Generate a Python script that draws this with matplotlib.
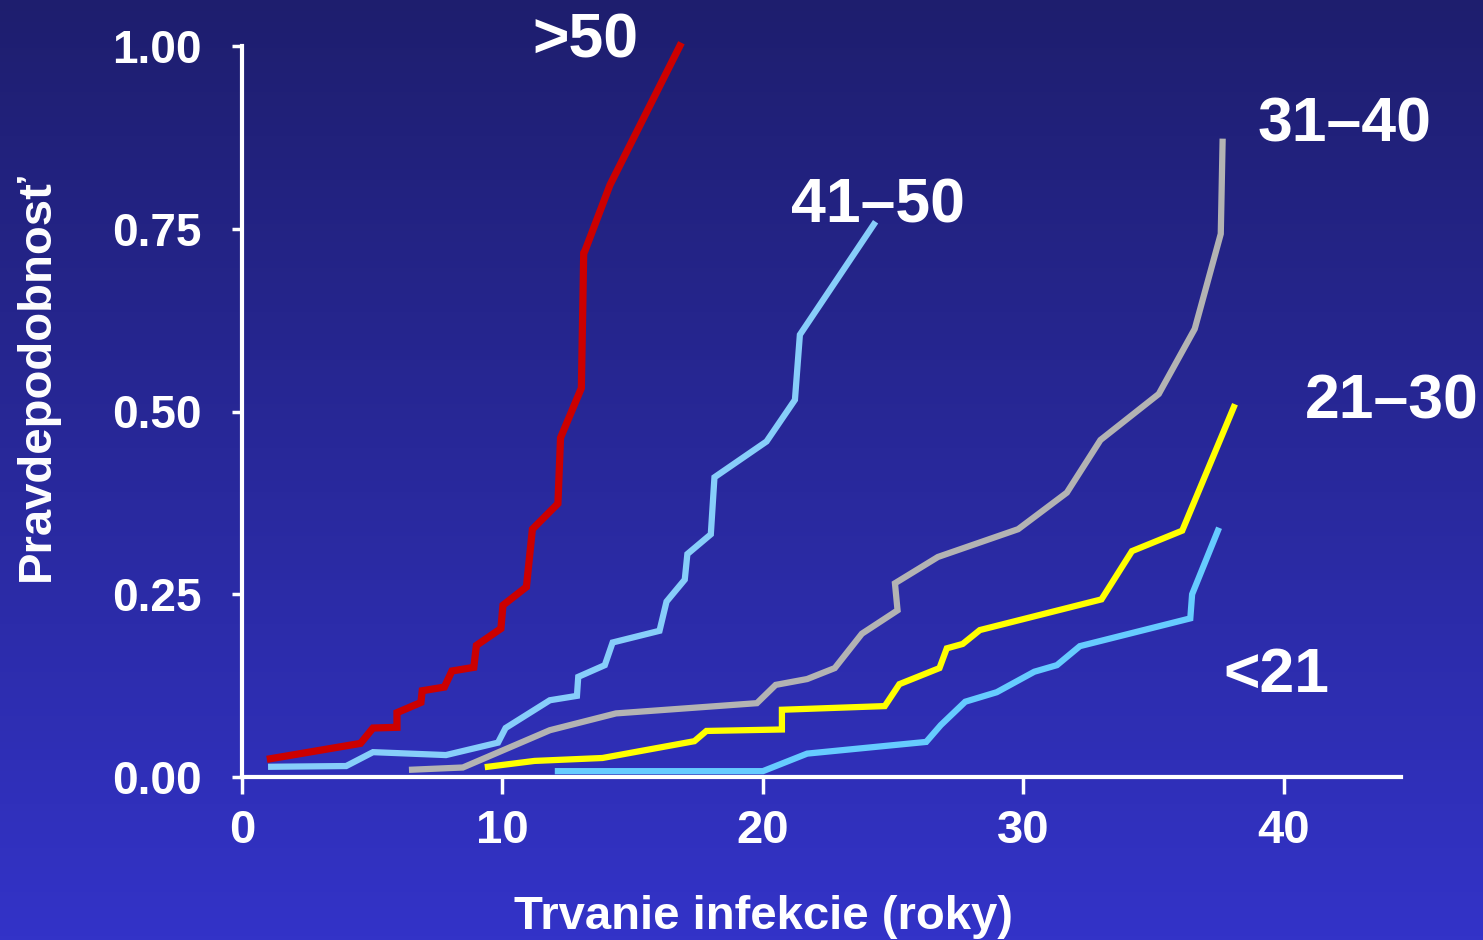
import matplotlib.pyplot as plt
import numpy as np

plt.rcParams['font.family'] = ['Liberation Sans', 'DejaVu Sans']
plt.rcParams['font.weight'] = 'bold'

# Data: cumulative probability vs. duration of infection, by age at infection
gt50_x = [1.09, 4.55, 5.03, 5.95, 5.95, 6.87, 6.92, 7.77, 8.06, 8.9, 9.0, 9.94, 10.02,
          10.92, 11.15, 12.13, 12.23, 13.03, 13.12, 13.17, 14.13, 16.81]
gt50_y = [0.025, 0.046, 0.067, 0.068, 0.088, 0.102, 0.118, 0.123, 0.145, 0.150, 0.180,
          0.203, 0.235, 0.260, 0.339, 0.374, 0.464, 0.532, 0.717, 0.72, 0.81, 1.0]

a41_x = [1.12, 4.0, 5.03, 7.83, 9.83, 10.12, 11.82, 12.86, 12.91, 13.93, 14.23, 16.03,
         16.3, 17.0, 17.1, 18.0, 18.14, 20.14, 21.23, 21.42, 24.26]
a41_y = [0.014, 0.015, 0.034, 0.030, 0.047, 0.067, 0.105, 0.111, 0.137, 0.153, 0.184,
         0.200, 0.240, 0.270, 0.305, 0.332, 0.41, 0.459, 0.516, 0.605, 0.756]

a31_x = [6.53, 8.48, 11.82, 14.36, 19.77, 20.49, 21.7, 22.76, 23.8, 25.17, 25.07, 26.72,
         29.8, 31.67, 32.96, 35.2, 36.58, 37.58, 37.65]
a31_y = [0.010, 0.013, 0.064, 0.087, 0.101, 0.126, 0.134, 0.149, 0.196, 0.228, 0.265,
         0.301, 0.339, 0.389, 0.461, 0.524, 0.613, 0.743, 0.869]

a21_x = [9.44, 11.23, 13.84, 17.37, 17.83, 20.73, 20.73, 24.68, 25.24, 26.78, 27.06,
         27.67, 28.33, 33.0, 34.17, 36.1, 38.08]
a21_y = [0.014, 0.022, 0.026, 0.049, 0.063, 0.065, 0.092, 0.097, 0.127, 0.149, 0.176,
         0.182, 0.201, 0.243, 0.309, 0.337, 0.506]

lt21_x = [12.13, 20.0, 21.7, 26.27, 26.83, 27.77, 28.98, 30.42, 31.29, 32.17, 36.41,
          36.48, 37.47]
lt21_y = [0.008, 0.008, 0.032, 0.048, 0.071, 0.103, 0.116, 0.144, 0.153, 0.179, 0.217,
          0.250, 0.337]

x_ticks = [0, 10, 20, 30, 40]
y_ticks = [0, 0.25, 0.5, 0.75, 1.0]
y_ticklabels = ["0.00", "0.25", "0.50", "0.75", "1.00"]

fig = plt.figure(figsize=(14.83, 9.40), dpi=100)

# gradient background
bg = fig.add_axes([0, 0, 1, 1], zorder=-1)
grad = np.linspace(0, 1, 256)[:, None]
top = np.array([0x1E, 0x1E, 0x6E]) / 255
bottom = np.array([0x33, 0x33, 0xC8]) / 255
img = top + (bottom - top) * grad[:, :, None]
bg.imshow(img, aspect='auto', extent=[0, 1, 0, 1], origin='upper')
bg.axis('off')

ax = fig.add_axes([242 / 1483, 1 - 777 / 940, (1401 - 242) / 1483, (777 - 46) / 940])
ax.set_facecolor('none')

lines = [
    (gt50_x, gt50_y, "#CC0000", 5.2),
    (a41_x, a41_y, "#87CEFA", 4.5),
    (a31_x, a31_y, "#B3B3B3", 4.5),
    (a21_x, a21_y, "#FFFF00", 4.5),
    (lt21_x, lt21_y, "#66CCFF", 4.5),
]
for xs, ys, c, lw in lines:
    ax.plot(xs, ys, color=c, lw=lw, solid_joinstyle='miter', clip_on=False)

# series labels
lab_kw = dict(color='white', fontsize=45, fontweight='bold', ha='center',
              va='baseline', clip_on=False)
ax.text(13.17, 0.984, ">50", **lab_kw)
ax.text(24.41, 0.759, "41–50", **lab_kw)
ax.text(42.32, 0.869, "31–40", **lab_kw)
ax.text(44.16, 0.491, "21–30", **lab_kw)
ax.text(39.71, 0.116, "<21", **lab_kw)

ax.set_xlim(0, 44.5)
ax.set_ylim(0, 1.0)
ax.set_xticks(x_ticks)
ax.set_yticks(y_ticks)
ax.set_yticklabels(y_ticklabels)

for s in ["top", "right"]:
    ax.spines[s].set_visible(False)
for s in ["left", "bottom"]:
    ax.spines[s].set_color('white')
    ax.spines[s].set_linewidth(3)

ax.tick_params(axis='x', colors='white', length=12, width=2.5, pad=11, labelsize=34)
ax.tick_params(axis='y', colors='white', length=7, width=2.5, pad=22, labelsize=33)
for lab in ax.get_xticklabels() + ax.get_yticklabels():
    lab.set_fontweight('bold')

ax.set_xlabel("Trvanie infekcie (roky)", color='white', fontsize=34, fontweight='bold')
ax.set_ylabel("Pravdepodobnosť", color='white', fontsize=34, fontweight='bold')
ax.xaxis.label.set_va('center')
ax.yaxis.label.set_va('center')
ax.xaxis.set_label_coords(0.4496, -0.192)
ax.yaxis.set_label_coords(-0.177, 0.548)

fig.savefig("out.png", dpi=100)
